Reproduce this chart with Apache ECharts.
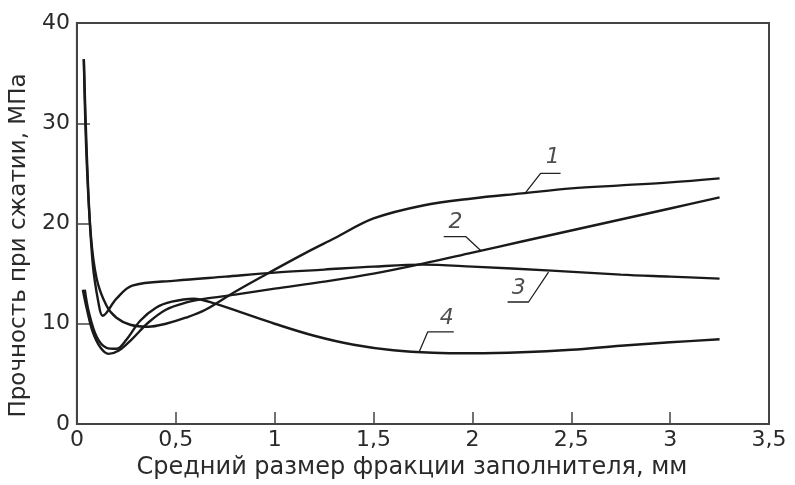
<!DOCTYPE html>
<html>
<head>
<meta charset="utf-8">
<script src="https://cdn.jsdelivr.net/npm/echarts@6/dist/echarts.min.js"></script>
<style>
  html, body { margin: 0; padding: 0; background: #fff; }
  #chart { width: 795px; height: 485px; }
</style>
</head>
<body>
<div id="chart"></div>
<script>
// curves: [x, y] pairs
const curve1 = [
  [0.035, 36.4], [0.05, 27], [0.07, 19], [0.1, 14.5], [0.15, 11.8], [0.2, 10.6],
  [0.27, 9.9], [0.36, 9.7], [0.45, 10.0], [0.55, 10.6], [0.65, 11.4], [0.8, 13.2],
  [1.0, 15.4], [1.15, 17.0], [1.3, 18.5], [1.5, 20.5], [1.75, 21.8], [2.0, 22.5],
  [2.25, 23.0], [2.5, 23.5], [2.75, 23.8], [3.0, 24.1], [3.25, 24.5]
];
const curve2 = [
  [0.03, 13.4], [0.05, 11.5], [0.08, 9.2], [0.12, 7.6], [0.16, 7.0], [0.21, 7.3],
  [0.28, 8.5], [0.36, 10.1], [0.45, 11.4], [0.55, 12.1], [0.65, 12.5], [0.8, 12.9],
  [1.0, 13.5], [1.25, 14.2], [1.5, 15.0], [1.75, 16.0], [2.0, 17.1], [2.25, 18.2],
  [2.5, 19.3], [2.75, 20.4], [3.0, 21.5], [3.25, 22.6]
];
const curve3 = [
  [0.035, 36.4], [0.05, 26], [0.08, 16], [0.11, 12], [0.13, 10.8], [0.2, 12.5],
  [0.28, 13.8], [0.5, 14.3], [0.75, 14.7], [1.0, 15.1], [1.25, 15.4], [1.5, 15.7],
  [1.75, 15.9], [2.0, 15.7], [2.4, 15.3], [2.75, 14.9], [3.0, 14.7], [3.25, 14.5]
];
const curve4 = [
  [0.04, 13.4], [0.06, 11.2], [0.1, 8.7], [0.15, 7.6], [0.2, 7.5], [0.25, 8.4],
  [0.32, 10.3], [0.4, 11.6], [0.48, 12.2], [0.59, 12.5], [0.7, 12.0], [0.85, 11.0],
  [1.0, 10.0], [1.2, 8.8], [1.4, 7.9], [1.6, 7.35], [1.8, 7.1], [2.0, 7.05],
  [2.25, 7.15], [2.5, 7.4], [2.75, 7.8], [3.0, 8.15], [3.25, 8.45]
];

// leader lines for the curve numbers, and where the numbers sit
const leader1 = [[2.27, 23.1], [2.345, 25.0], [2.446, 25.0]];
const leader2 = [[2.042, 17.3], [1.966, 18.7], [1.855, 18.7]];
const leader3 = [[2.385, 15.15], [2.284, 12.17], [2.178, 12.17]];
const leader4 = [[1.729, 7.1], [1.774, 9.18], [1.906, 9.18]];
const curveLabels = [
  { name: "1", value: [2.406, 26.6] },
  { name: "2", value: [1.915, 20.1] },
  { name: "3", value: [2.234, 13.5] },
  { name: "4", value: [1.87, 10.5] }
];

const xTitle = "Средний размер фракции заполнителя, мм";
const yTitle = "Прочность при сжатии, МПа";

const fontFamily = "'DejaVu Sans', Verdana, sans-serif";
const axisColor = "#444";
const textColor = "#2a2a2a";

const chart = echarts.init(document.getElementById("chart"));

function curveSeries(data) {
  return {
    type: "line",
    data: data,
    smooth: 0.35,
    showSymbol: false,
    symbol: "none",
    lineStyle: { color: "#1a1a1a", width: 2.4 },
    silent: true,
    z: 3
  };
}

function leaderSeries(data) {
  return {
    type: "line",
    data: data,
    showSymbol: false,
    symbol: "none",
    lineStyle: { color: "#222", width: 1.3 },
    silent: true,
    z: 2
  };
}

chart.setOption({
  backgroundColor: "#fff",
  animation: false,
  grid: {
    left: 76,
    right: 26,
    top: 23,
    bottom: 61,
    show: true,
    borderColor: axisColor,
    borderWidth: 2
  },
  xAxis: {
    type: "value",
    min: 0,
    max: 3.5,
    interval: 0.5,
    name: xTitle,
    nameLocation: "middle",
    nameGap: 31,
    nameTextStyle: {
      color: textColor,
      fontSize: 24,
      fontFamily: fontFamily,
      padding: [0, 22, 0, 0]
    },
    axisLine: { lineStyle: { color: axisColor, width: 2 } },
    axisTick: { inside: true, length: 12, lineStyle: { color: axisColor, width: 1.5 } },
    splitLine: { show: false },
    axisLabel: {
      color: textColor,
      fontSize: 22,
      fontFamily: fontFamily,
      margin: 5,
      formatter: function (v) {
        return String(v).replace(".", ",");
      }
    }
  },
  yAxis: {
    type: "value",
    min: 0,
    max: 40,
    interval: 10,
    name: yTitle,
    nameLocation: "middle",
    nameGap: 42,
    nameTextStyle: {
      color: textColor,
      fontSize: 23,
      fontFamily: fontFamily,
      padding: [0, 44, 0, 0]
    },
    axisLine: { lineStyle: { color: axisColor, width: 2 } },
    axisTick: { inside: true, length: 13, lineStyle: { color: axisColor, width: 1.5 } },
    splitLine: { show: false },
    axisLabel: {
      color: textColor,
      fontSize: 22,
      fontFamily: fontFamily,
      margin: 7
    }
  },
  series: [
    curveSeries(curve1),
    curveSeries(curve2),
    curveSeries(curve3),
    curveSeries(curve4),
    leaderSeries(leader1),
    leaderSeries(leader2),
    leaderSeries(leader3),
    leaderSeries(leader4),
    {
      type: "scatter",
      data: curveLabels,
      symbolSize: 0,
      silent: true,
      label: {
        show: true,
        position: "inside",
        formatter: "{b}",
        color: "#222",
        fontSize: 22,
        fontStyle: "italic",
        fontFamily: fontFamily
      },
      z: 4
    }
  ]
});
window.addEventListener("resize", function () {
  chart.resize();
});
</script>
</body>
</html>
